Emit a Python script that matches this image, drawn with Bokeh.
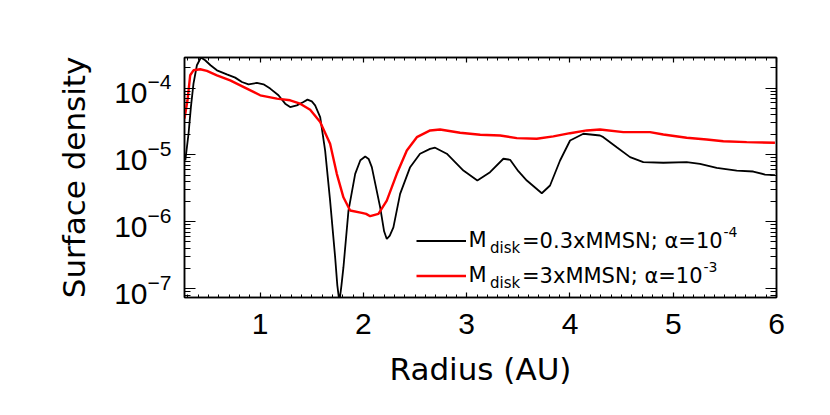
from bokeh.plotting import figure
from bokeh.models import (Range1d, FixedTicker, LinearAxis, LogAxis, LogTickFormatter,
                          CustomJSTickFormatter, Legend, LegendItem, Label)
from bokeh.embed import file_html
from bokeh.resources import INLINE

# ---------------- data ----------------
radius_black = [0.275, 0.306, 0.329, 0.354, 0.387, 0.426, 0.467, 0.519, 0.581, 0.677,
                0.758, 0.823, 0.887, 0.968, 1.032, 1.097, 1.177, 1.242, 1.290, 1.355,
                1.419, 1.458, 1.500, 1.532, 1.581, 1.629, 1.677, 1.726, 1.747, 1.767, 1.787, 1.806, 1.855,
                1.920, 1.970, 2.017, 2.050, 2.081, 2.162, 2.200, 2.226, 2.255, 2.290, 2.355, 2.452, 2.548, 2.645,
                2.694, 2.807, 2.968, 3.103, 3.226, 3.355, 3.420, 3.500, 3.582, 3.727,
                3.807, 3.904, 4.001, 4.130, 4.291, 4.323, 4.453, 4.582, 4.710, 4.904,
                5.130, 5.259, 5.421, 5.615, 5.775, 5.889, 5.985]
sigma_black = [8.3e-6, 2.07e-5, 5.19e-5, 1.16e-4, 2.19e-4, 2.86e-4, 2.60e-4, 2.19e-4, 1.84e-4, 1.60e-4,
               1.43e-4, 1.23e-4, 1.135e-4, 1.19e-4, 1.135e-4, 9.8e-5, 7.78e-5, 5.83e-5, 5.19e-5, 5.51e-5,
               6.17e-5, 6.70e-5, 6.3e-5, 5.51e-5, 3.67e-5, 1.16e-5, 2.07e-6, 2.92e-7, 1.12e-7, 6.3e-8, 1.12e-7, 2.07e-7, 1.47e-6,
               5.21e-6, 8.3e-6, 9.46e-6, 8.7e-6, 6.55e-6, 1.64e-6, 7.2e-7, 5.52e-7, 6.2e-7, 8.24e-7, 2.61e-6, 6.55e-6, 1.04e-5, 1.23e-5,
               1.28e-5, 1.04e-5, 5.83e-6, 4.13e-6, 5.51e-6, 8.75e-6, 8.45e-6, 5.70e-6, 4.13e-6, 2.67e-6,
               3.48e-6, 8.24e-6, 1.64e-5, 2.07e-5, 1.95e-5, 1.84e-5, 1.30e-5, 9.25e-6, 7.78e-6, 7.62e-6,
               7.78e-6, 7.36e-6, 6.41e-6, 5.83e-6, 5.64e-6, 5.08e-6, 4.97e-6]

radius_red = [0.267, 0.296, 0.322, 0.354, 0.419, 0.484, 0.581, 0.709, 0.871, 1.000,
              1.161, 1.290, 1.387, 1.484, 1.581, 1.677, 1.742, 1.806, 1.871, 1.984,
              2.026, 2.065, 2.145, 2.226, 2.323, 2.420, 2.517, 2.646, 2.742, 2.936,
              3.131, 3.324, 3.485, 3.678, 3.839, 4.001, 4.163, 4.291, 4.517, 4.775,
              4.904, 5.130, 5.324, 5.485, 5.711, 5.985]
sigma_red = [3.48e-5, 6.55e-5, 1.55e-4, 1.84e-4, 1.91e-4, 1.80e-4, 1.55e-4, 1.30e-4, 9.8e-5, 7.78e-5,
             6.93e-5, 6.55e-5, 5.83e-5, 4.74e-5, 3.09e-5, 1.47e-5, 5.21e-6, 2.32e-6, 1.47e-6, 1.36e-6,
             1.31e-6, 1.21e-6, 1.31e-6, 2.07e-6, 5.21e-6, 1.16e-5, 1.84e-5, 2.32e-5, 2.40e-5, 2.14e-5,
             2.00e-5, 1.95e-5, 1.78e-5, 1.74e-5, 1.89e-5, 2.11e-5, 2.32e-5, 2.40e-5, 2.19e-5, 2.19e-5,
             2.02e-5, 1.80e-5, 1.70e-5, 1.60e-5, 1.55e-5, 1.52e-5]

x_major_ticks = [1, 2, 3, 4, 5, 6]
y_major_ticks = [1e-7, 1e-6, 1e-5, 1e-4]

x_minor_ticks = [round(0.1 * i, 1) for i in range(3, 61) if i % 10 != 0]
y_minor_ticks = [m * 10.0 ** e for e in range(-8, -3) for m in range(2, 10)]

FONT = "DejaVu Sans"
TICK_FONT = "Liberation Sans"

p = figure(width=808, height=407,
           x_range=Range1d(0.267, 6.0), y_range=Range1d(7.36e-8, 2.86e-4),
           y_axis_type="log", output_backend="svg", toolbar_location=None,
           min_border_left=184, min_border_right=32, min_border_top=57, min_border_bottom=110)
p.grid.visible = False
p.outline_line_color = "black"
p.outline_line_width = 1.5
p.background_fill_color = "white"
p.border_fill_color = "white"

r_black = p.line(radius_black, sigma_black, line_color="black", line_width=1.8)
r_red = p.line(radius_red, sigma_red, line_color="#ff0000", line_width=2.4)

def style_x(ax):
    ax.ticker = FixedTicker(ticks=x_major_ticks, minor_ticks=x_minor_ticks)
    ax.axis_line_width = 1.5
    ax.axis_line_color = "black"
    ax.major_tick_line_color = "black"
    ax.minor_tick_line_color = "black"
    ax.major_tick_in = 5
    ax.major_tick_out = 0
    ax.minor_tick_in = 3
    ax.minor_tick_out = 0
    ax.major_tick_line_width = 1.2
    ax.minor_tick_line_width = 1.0

def style_y(ax):
    ax.ticker = FixedTicker(ticks=y_major_ticks, minor_ticks=y_minor_ticks)
    ax.axis_line_width = 1.5
    ax.axis_line_color = "black"
    ax.major_tick_line_color = "black"
    ax.minor_tick_line_color = "black"
    ax.major_tick_in = 11
    ax.major_tick_out = 0
    ax.minor_tick_in = 6
    ax.minor_tick_out = 0
    ax.major_tick_line_width = 1.2
    ax.minor_tick_line_width = 1.0

xa = p.xaxis[0]
style_x(xa)
xa.major_label_text_font = TICK_FONT
xa.major_label_text_font_size = "30px"
xa.major_label_text_color = "black"
xa.major_label_standoff = 16
xa.axis_label = "Radius (AU)"
xa.axis_label_text_font = FONT
xa.axis_label_text_font_size = "31px"
xa.axis_label_text_font_style = "normal"
xa.axis_label_text_color = "black"
xa.axis_label_standoff = 14

ya = p.yaxis[0]
style_y(ya)
ya.formatter = LogTickFormatter()
ya.major_label_text_font = TICK_FONT
ya.major_label_text_font_size = "30px"
ya.major_label_text_color = "black"
ya.major_label_standoff = 13
ya.axis_label = "Surface density"
ya.axis_label_text_font = FONT
ya.axis_label_text_font_size = "31px"
ya.axis_label_text_font_style = "normal"
ya.axis_label_text_color = "black"
ya.axis_label_standoff = 19

blank = CustomJSTickFormatter(code="return ''")
top = LinearAxis(formatter=blank, major_label_text_color=None)
style_x(top)
p.add_layout(top, "above")
right = LogAxis(formatter=blank, major_label_text_color=None)
style_y(right)
p.add_layout(right, "right")

# ---------------- legend ----------------
legend = Legend(items=[LegendItem(label="M", renderers=[r_black]),
                       LegendItem(label="M", renderers=[r_red])],
                location=(232.4, 9.2), orientation="vertical",
                padding=0, margin=0, spacing=10,
                glyph_width=50, glyph_height=25, label_height=25, label_standoff=2,
                label_text_font=FONT, label_text_font_size="21px",
                label_text_color="black",
                label_text_baseline="alphabetic",
                background_fill_alpha=0, border_line_color=None)
p.add_layout(legend)

def lab(x, y, text, size):
    p.add_layout(Label(x=x, y=y, x_units="screen", y_units="screen", text=text,
                       text_font=FONT, text_font_size=size, text_baseline="alphabetic",
                       text_color="black"))

lab(305.5, 50.0, "disk", "15px")
lab(337.5, 56.7, "=0.3xMMSN; α=10", "21px")
lab(539.0, 66.0, "-4", "14px")
lab(305.5, 15.0, "disk", "15px")
lab(337.5, 21.7, "=3xMMSN; α=10", "21px")
lab(519.0, 31.0, "-3", "14px")

open("out.html", "w").write(file_html(p, INLINE))
